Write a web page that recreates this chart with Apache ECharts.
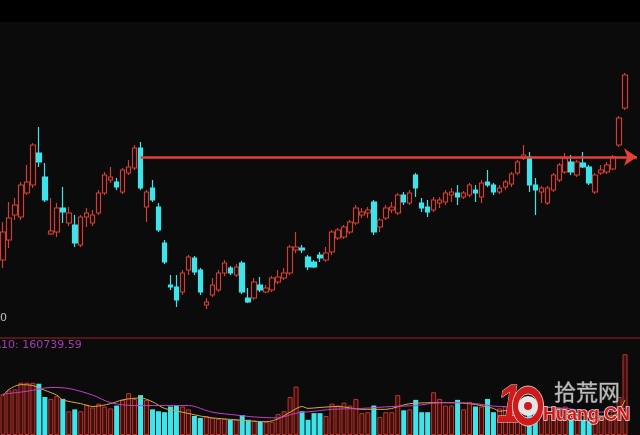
<!DOCTYPE html>
<html>
<head>
<meta charset="utf-8">
<script src="https://cdn.jsdelivr.net/npm/echarts@6/dist/echarts.min.js"></script>
<style>
  html, body { margin: 0; padding: 0; background: #0b0b0b; }
  #kline { width: 640px; height: 435px; }
</style>
</head>
<body>
<div id="kline"></div>
<script>
// price values (arbitrary units)
var openData = [140,160,185,183,207,215,247,223,166,168,
  192,177,175,155,183,177,187,207,220,218,
  208,227,232,252,193,212,193,157,115,113,
  108,130,142,130,95,105,110,127,132,125,
  137,102,102,115,108,110,118,122,127,150,
  152,143,138,145,140,148,162,163,168,177,
  185,187,198,173,182,190,187,205,197,225,
  197,193,190,197,198,205,207,203,205,210,
  203,218,215,208,213,216,227,242,243,215,
  208,197,210,220,228,238,225,237,233,208,
  227,228,231,255,292];
var closeData = [168,182,195,215,218,255,238,200,169,192,
  188,187,157,183,187,185,207,225,223,213,
  230,233,252,212,208,200,170,138,113,100,
  127,143,128,108,98,115,127,137,127,133,
  108,98,118,110,112,122,123,127,153,153,
  150,133,133,142,147,168,170,173,178,192,
  188,190,168,180,192,193,205,198,207,212,
  192,188,200,200,207,208,203,207,215,207,
  217,215,208,212,218,226,238,245,215,210,
  212,212,225,235,242,228,238,233,217,225,
  230,235,243,282,325];
var lowData = [132,152,180,180,205,212,233,198,165,163,
  177,174,153,153,173,174,185,205,217,210,
  206,225,230,210,178,198,168,136,110,93,
  105,125,125,105,91,103,108,124,125,123,
  106,97,100,108,107,108,116,120,125,147,
  147,130,132,138,138,145,160,161,166,175,
  182,182,165,168,180,187,185,195,195,203,
  188,183,188,192,195,198,195,201,203,198,
  197,213,205,206,210,213,225,240,208,185,
  197,195,208,218,226,225,223,232,215,206,
  225,226,230,253,290];
var highData = [178,198,202,218,235,257,273,237,202,197,
  213,193,185,185,192,190,210,228,233,222,
  232,240,255,258,210,220,197,160,125,125,
  130,145,144,132,102,122,130,140,134,136,
  139,112,122,123,115,124,130,132,155,168,
  155,145,140,148,153,170,172,175,180,195,
  192,193,200,182,195,198,207,208,210,227,
  202,200,203,203,210,212,215,209,217,215,
  220,230,217,215,220,228,240,255,248,222,
  214,214,227,237,247,245,240,248,235,227,
  235,238,245,284,327];
var volumeData = [43,47,48,55,55,55,54,40,38,41,
  38,25,27,25,32,29,33,30,28,31,
  37,44,38,42,37,27,25,24,30,31,
  30,27,20,18,20,18,17,17,16,16,
  21,16,15,14,14,14,22,25,40,51,
  25,16,23,23,20,33,31,34,31,38,
  23,24,31,19,24,24,42,26,27,37,
  24,24,45,38,31,31,37,27,35,30,
  30,38,24,28,30,28,30,35,38,30,
  25,22,25,28,30,18,20,16,15,22,
  18,20,25,40,85];
// volume moving averages, read at a few points: [day index, value]
var ma5Points = [[0,41],[1,48],[3,53],[5,52],[7,47],[9,42],[10,37],[13,33],[15,30],[18,33],
  [20,37],[23,39],[25,35],[27,28],[30,24],[33,20],[35,18],[39,16],[41,15],[44,14],
  [46,17],[48,24],[50,30],[51,28],[53,29],[56,30],[60,27],[64,27],[68,33],[73,34],
  [78,33],[82,28],[83,25],[88,30],[93,28],[98,20],[102,20],[104,37]];
var ma10Points = [[0,43],[4,46],[8,50],[11,49],[15,42],[18,34],[22,31],[26,31],[31,31],[35,24],
  [39,21],[42,19],[46,18],[49,23],[52,25],[55,27],[60,28],[65,30],[69,31],[73,34],
  [76,34],[79,33],[83,30],[88,30],[94,28],[100,24],[104,28]];
var resistLevel = 243;
var resistFrom = 23;
var resistTo = 106;
var dayCount = 107;

var days = [];
for (var i = 0; i < dayCount; i++) days.push("D" + (i + 1));

var candles = [];
var volBars = [];
for (var i = 0; i < openData.length; i++) {
  candles.push([openData[i], closeData[i], lowData[i], highData[i]]);
  var up = closeData[i] >= openData[i];
  volBars.push({
    value: volumeData[i],
    itemStyle: up
      ? { color: "#3e0f0c", borderColor: "#c0362e", borderWidth: 1 }
      : { color: "#3fe3ea", borderColor: "#3fe3ea", borderWidth: 0 }
  });
}

var chart = echarts.init(document.getElementById("kline"));
var option = {
  backgroundColor: "#0b0b0b",
  animation: false,
  grid: [
    { left: 0, right: 0, top: 22, height: 316 },
    { left: 0, right: 0, top: 340, height: 100 }
  ],
  xAxis: [
    {
      type: "category", gridIndex: 0, data: days, boundaryGap: true,
      axisLabel: { show: false }, axisTick: { show: false }, splitLine: { show: false },
      axisLine: { show: true, onZero: false, lineStyle: { color: "#561616", width: 2 } }
    },
    {
      type: "category", gridIndex: 1, data: days, boundaryGap: true,
      axisLabel: { show: false }, axisTick: { show: false }, splitLine: { show: false },
      axisLine: { show: false }
    }
  ],
  yAxis: [
    { type: "value", gridIndex: 0, min: 62, max: 378, show: false },
    { type: "value", gridIndex: 1, min: 0, max: 100, show: false }
  ],
  series: [
    {
      name: "K",
      type: "candlestick",
      xAxisIndex: 0, yAxisIndex: 0,
      barWidth: 5,
      data: candles,
      itemStyle: {
        color: "#0b0b0b",
        borderColor: "#d03e34",
        color0: "#3fe3ea",
        borderColor0: "#3fe3ea",
        borderWidth: 1.2
      },
      markLine: {
        silent: true,
        symbol: ["none", "arrow"],
        symbolSize: 13,
        label: { show: false },
        lineStyle: { color: "#e4403a", width: 2.5, type: "solid" },
        data: [[
          { coord: [days[resistFrom], resistLevel] },
          { coord: [days[resistTo], resistLevel] }
        ]]
      }
    },
    {
      name: "VOL",
      type: "bar",
      xAxisIndex: 1, yAxisIndex: 1,
      barWidth: 5,
      data: volBars
    },
    {
      name: "MA5",
      type: "line",
      xAxisIndex: 1, yAxisIndex: 1,
      symbol: "none",
      smooth: 0.3,
      data: ma5Points,
      lineStyle: { color: "#d8a848", width: 1 },
      z: 3
    },
    {
      name: "MA10",
      type: "line",
      xAxisIndex: 1, yAxisIndex: 1,
      symbol: "none",
      smooth: 0.3,
      data: ma10Points,
      lineStyle: { color: "#c23ec8", width: 1 },
      z: 3
    }
  ],
  graphic: [
    { type: "rect", left: 0, top: 0, shape: { width: 640, height: 22 }, style: { fill: "#000" }, z: 1 },
    { type: "text", left: 0, top: 313, style: { text: "0", fill: "#bdbdbd", font: "11px 'DejaVu Sans'" } },
    { type: "text", left: -16, top: 340, style: { text: "MA10: 160739.59", fill: "#a23cb2", font: "11px 'DejaVu Sans'" } },
    // watermark
    { type: "text", x: 497, y: 380, scaleX: 0.8, z: 100,
      style: { text: "1", fill: "#cf1a1a", font: "italic bold 54px 'Liberation Sans'", stroke: "#f0d0d0", lineWidth: 1 } },
    { type: "ring", x: 528, y: 406, scaleX: 0.78, z: 100,
      shape: { cx: 0, cy: 0, r: 20, r0: 12 }, style: { fill: "#cf1a1a", stroke: "#f0d0d0", lineWidth: 1 } },
    { type: "circle", x: 528, y: 406, z: 100, shape: { cx: 0, cy: 0, r: 10 }, style: { fill: "#e6e6e6" } },
    { type: "circle", x: 528, y: 406, z: 101, shape: { cx: 0, cy: 0, r: 4 }, style: { fill: "#cf1a1a" } },
    { type: "text", x: 554, y: 381, z: 100,
      style: { text: "拾荒网", fill: "#bcbcbc", font: "22px 'Noto Sans CJK SC'", stroke: "#555", lineWidth: 1 } },
    { type: "text", x: 543, y: 406, z: 100,
      style: { text: "Huang.CN", fill: "#cf1a1a", font: "bold 18px 'Liberation Sans'", stroke: "#f2e0e0", lineWidth: 1.5 } }
  ]
};
chart.setOption(option);
window.addEventListener("resize", function () {
  chart.resize();
});
</script>
</body>
</html>
